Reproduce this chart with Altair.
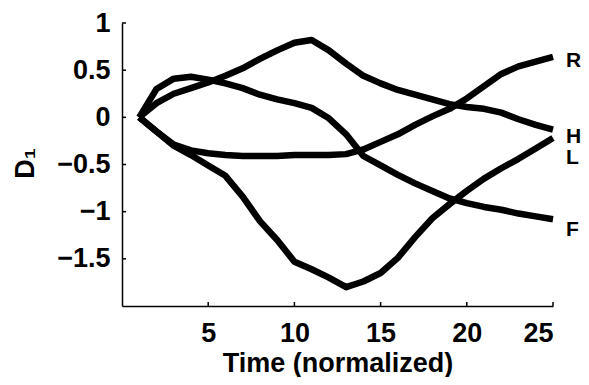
import altair as alt
import pandas as pd

# ---- data ----
time = list(range(1, 26))
curve_peak = [0.0, 0.15, 0.25, 0.31, 0.37, 0.44, 0.52, 0.62, 0.71, 0.79, 0.82, 0.71, 0.57,
              0.44, 0.36, 0.29, 0.24, 0.19, 0.14, 0.11, 0.09, 0.05, -0.02, -0.08, -0.13]
curve_early = [0.0, 0.30, 0.41, 0.43, 0.40, 0.36, 0.31, 0.24, 0.19, 0.15, 0.10, -0.01, -0.18,
               -0.41, -0.51, -0.61, -0.70, -0.78, -0.86, -0.91, -0.95, -0.98, -1.02, -1.05, -1.08]
curve_flat = [0.0, -0.15, -0.29, -0.35, -0.38, -0.40, -0.41, -0.41, -0.41, -0.40, -0.40, -0.40, -0.39,
              -0.34, -0.26, -0.18, -0.08, 0.01, 0.09, 0.20, 0.33, 0.46, 0.54, 0.59, 0.64]
curve_valley = [0.0, -0.15, -0.30, -0.40, -0.51, -0.62, -0.84, -1.10, -1.30, -1.53, -1.61, -1.70, -1.80,
                -1.74, -1.65, -1.49, -1.27, -1.07, -0.92, -0.78, -0.65, -0.54, -0.44, -0.33, -0.22]

end_labels = ["R", "H", "L", "F"]
end_label_t = [25, 25, 25, 25]
end_label_y = [0.53, -0.27, -0.49, -1.255]

x_ticks = [5, 10, 15, 20, 25]
y_ticks = [1, 0.5, 0, -0.5, -1, -1.5]

W, H = 431, 283
FONT = "Liberation Sans"

rows = []
for name, vals in [("peak", curve_peak), ("early", curve_early),
                   ("flat", curve_flat), ("valley", curve_valley)]:
    for t, v in zip(time, vals):
        rows.append({"series": name, "t": t, "v": v})
df = pd.DataFrame(rows)

lab_df = pd.DataFrame({"label": end_labels, "t": end_label_t, "v": end_label_y})
xt_df = pd.DataFrame({"tick": x_ticks})
yt_df = pd.DataFrame({"tick": y_ticks})

xscale = alt.Scale(domain=[0, 25], nice=False, zero=False)
yscale = alt.Scale(domain=[-2, 1], nice=False, zero=False)

xaxis = alt.Axis(values=x_ticks, ticks=False, tickSize=0, grid=False,
                 domainColor="black", domainWidth=1.5,
                 labelFont=FONT, labelFontWeight="bold", labelFontSize=27,
                 labelColor="black", labelPadding=14,
                 title="Time (normalized)", titleFont=FONT, titleFontWeight="bold",
                 titleFontSize=27, titleColor="black",
                 titleX=W / 2, titleY=65, titleAlign="center", titleBaseline="alphabetic")
yaxis = alt.Axis(values=y_ticks, format="~g", ticks=False, tickSize=0, grid=False,
                 domainColor="black", domainWidth=1.5,
                 labelFont=FONT, labelFontWeight="bold", labelFontSize=27,
                 labelColor="black", labelPadding=12,
                 title="D\u2081", titleFont=FONT, titleFontWeight="bold",
                 titleFontSize=27, titleColor="black", titleAngle=270,
                 titleX=-89, titleY=140, titleAlign="center", titleBaseline="alphabetic")

lines = alt.Chart(df).mark_line(color="black", strokeWidth=6.5, strokeJoin="round").encode(
    x=alt.X("t:Q", scale=xscale, axis=xaxis),
    y=alt.Y("v:Q", scale=yscale, axis=yaxis),
    detail="series:N",
)

labels = alt.Chart(lab_df).mark_text(
    align="left", baseline="alphabetic", dx=13, font=FONT, fontWeight="bold",
    fontSize=21, color="black"
).encode(x=alt.X("t:Q", scale=xscale), y=alt.Y("v:Q", scale=yscale), text="label:N")

xticks = alt.Chart(xt_df).mark_rule(color="black", strokeWidth=1.5).encode(
    x=alt.X("tick:Q", scale=xscale), y=alt.value(H), y2=alt.value(H - 4))
yticks = alt.Chart(yt_df).mark_rule(color="black", strokeWidth=1.5).encode(
    y=alt.Y("tick:Q", scale=yscale), x=alt.value(0), x2=alt.value(4))

chart = alt.layer(lines, xticks, yticks, labels).properties(
    width=W, height=H,
    padding={"left": 114, "top": 15, "right": 28, "bottom": 71},
    autosize=alt.AutoSizeParams(type="none"),
    background="white",
).configure_view(stroke=None)

chart.save("out.html", embed_options={"renderer": "svg", "actions": False})
